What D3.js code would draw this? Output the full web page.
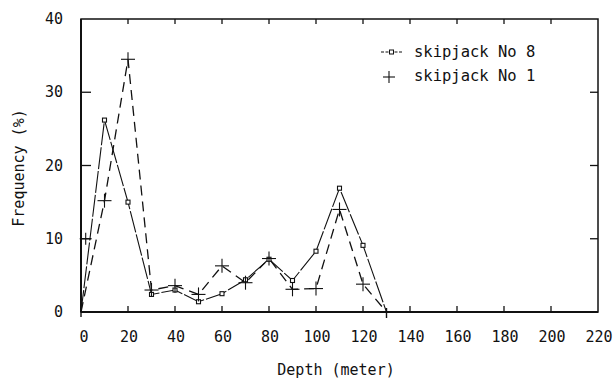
<!DOCTYPE html>
<html>
<head>
<meta charset="utf-8">
<script src="https://cdn.jsdelivr.net/npm/d3@7"></script>
<style>
  body { margin: 0; background: #fff; }
  svg text { font-family: "DejaVu Sans Mono", monospace; fill: #111; }
</style>
</head>
<body>
<div id="chart"></div>
<script>
// depths sampled (m)
var depths = [0, 10, 20, 30, 40, 50, 60, 70, 80, 90, 100, 110, 120, 130];
// frequency (%) per series
var no8 = [0, 26.2, 15.0, 2.4, 3.0, 1.4, 2.5, 4.4, 7.2, 4.3, 8.3, 16.9, 9.1, 0];
var no1 = [0, 15.2, 34.5, 3.0, 3.6, 2.4, 6.3, 4.0, 7.3, 3.1, 3.2, 14.0, 3.8, 0];
// lone "+" near the origin
var strayDepth = [2];
var strayFreq = [10];

var xTicks = [0, 20, 40, 60, 80, 100, 120, 140, 160, 180, 200, 220];
var yTicks = [0, 10, 20, 30, 40];
var seriesNames = ["skipjack No 8", "skipjack No 1"];

var width = 616, height = 378;
var x = d3.scaleLinear().domain([0, 220]).range([81, 598]);
var y = d3.scaleLinear().domain([0, 40]).range([312, 19]);

var svg = d3.select("#chart").append("svg")
  .attr("width", width)
  .attr("height", height);

// frame
svg.append("rect")
  .attr("x", x(0)).attr("y", y(40))
  .attr("width", x(220) - x(0)).attr("height", y(0) - y(40))
  .attr("fill", "none").attr("stroke", "#111").attr("stroke-width", 1.5);
svg.append("line")
  .attr("x1", x(0)).attr("x2", x(220)).attr("y1", y(0)).attr("y2", y(0))
  .attr("stroke", "#111").attr("stroke-width", 2.2);
svg.append("line")
  .attr("x1", x(0)).attr("x2", x(0)).attr("y1", y(0)).attr("y2", y(40))
  .attr("stroke", "#111").attr("stroke-width", 2);

// inward ticks on all four sides
var innerX = xTicks.slice(1, -1);
var innerY = yTicks.slice(1, -1);
svg.selectAll(".xtb").data(innerX).enter().append("line")
  .attr("x1", function(d){ return x(d); }).attr("x2", function(d){ return x(d); })
  .attr("y1", y(0)).attr("y2", y(0) - 6)
  .attr("stroke", "#111").attr("stroke-width", 1.3);
svg.selectAll(".xtt").data(innerX).enter().append("line")
  .attr("x1", function(d){ return x(d); }).attr("x2", function(d){ return x(d); })
  .attr("y1", y(40)).attr("y2", y(40) + 5)
  .attr("stroke", "#111").attr("stroke-width", 1.3);
svg.selectAll(".ytl").data(innerY).enter().append("line")
  .attr("x1", x(0)).attr("x2", x(0) + 10)
  .attr("y1", function(d){ return y(d); }).attr("y2", function(d){ return y(d); })
  .attr("stroke", "#111").attr("stroke-width", 1.3);
svg.selectAll(".ytr").data(innerY).enter().append("line")
  .attr("x1", x(220)).attr("x2", x(220) - 8)
  .attr("y1", function(d){ return y(d); }).attr("y2", function(d){ return y(d); })
  .attr("stroke", "#111").attr("stroke-width", 1.3);

// tick labels
svg.selectAll(".xl").data(xTicks).enter().append("text")
  .attr("x", function(d){ return x(d) + (d === 0 ? 3 : 1); })
  .attr("y", 342)
  .attr("text-anchor", "middle")
  .style("font-size", "15px")
  .text(function(d){ return d; });
svg.selectAll(".yl").data(yTicks).enter().append("text")
  .attr("x", 63)
  .attr("y", function(d){ return y(d) + 5; })
  .attr("text-anchor", "end")
  .style("font-size", "15px")
  .text(function(d){ return d; });

// axis titles
svg.append("text")
  .attr("x", 336).attr("y", 375)
  .attr("text-anchor", "middle")
  .style("font-size", "15px")
  .text("Depth (meter)");
svg.append("text")
  .attr("transform", "translate(24,168) rotate(-90)")
  .attr("text-anchor", "middle")
  .style("font-size", "15px")
  .text("Frequency (%)");

var line = d3.line()
  .x(function(d){ return x(d[0]); })
  .y(function(d){ return y(d[1]); });

var pts8 = depths.map(function(d, i){ return [d, no8[i]]; });
var pts1 = depths.map(function(d, i){ return [d, no1[i]]; });

svg.append("path")
  .attr("d", line(pts8))
  .attr("fill", "none").attr("stroke", "#111").attr("stroke-width", 1.1)
  .attr("stroke-dasharray", "22,2");
svg.append("path")
  .attr("d", line(pts1))
  .attr("fill", "none").attr("stroke", "#111").attr("stroke-width", 1.3)
  .attr("stroke-dasharray", "10,6");

function plus(g, cx, cy, s) {
  g.append("line").attr("x1", cx - s).attr("x2", cx + s).attr("y1", cy).attr("y2", cy)
    .attr("stroke", "#111").attr("stroke-width", 1.1);
  g.append("line").attr("x1", cx).attr("x2", cx).attr("y1", cy - s).attr("y2", cy + s)
    .attr("stroke", "#111").attr("stroke-width", 1.1);
}

svg.selectAll(".m8").data(pts8.slice(1, -1)).enter().append("rect")
  .attr("x", function(d){ return x(d[0]) - 2; })
  .attr("y", function(d){ return y(d[1]) - 2; })
  .attr("width", 4).attr("height", 4)
  .attr("fill", "#fff").attr("stroke", "#111").attr("stroke-width", 1.1);

var marks = svg.append("g");
pts1.slice(1, -1).forEach(function(d){ plus(marks, x(d[0]), y(d[1]), 7); });
strayDepth.forEach(function(d, i){ plus(marks, x(d), y(strayFreq[i]), 6); });

// origin and end-point ticks
svg.append("line")
  .attr("x1", x(0)).attr("x2", x(0)).attr("y1", y(0) - 4).attr("y2", y(0) + 5)
  .attr("stroke", "#111").attr("stroke-width", 1.4);
svg.append("line")
  .attr("x1", x(130)).attr("x2", x(130)).attr("y1", y(0) - 4).attr("y2", y(0) + 6)
  .attr("stroke", "#111").attr("stroke-width", 1.4);

// legend
var lg = svg.append("g");
lg.append("line").attr("x1", 381).attr("x2", 402).attr("y1", 52).attr("y2", 52)
  .attr("stroke", "#111").attr("stroke-width", 1.1).attr("stroke-dasharray", "3,1.5");
lg.append("rect").attr("x", 389.5).attr("y", 50).attr("width", 4).attr("height", 4)
  .attr("fill", "#fff").attr("stroke", "#111").attr("stroke-width", 1);
plus(lg, 389, 77, 6);
lg.selectAll("text").data(seriesNames).enter().append("text")
  .attr("x", 414)
  .attr("y", function(d, i){ return 57 + i * 24; })
  .style("font-size", "15.5px")
  .text(function(d){ return d; });
</script>
</body>
</html>
